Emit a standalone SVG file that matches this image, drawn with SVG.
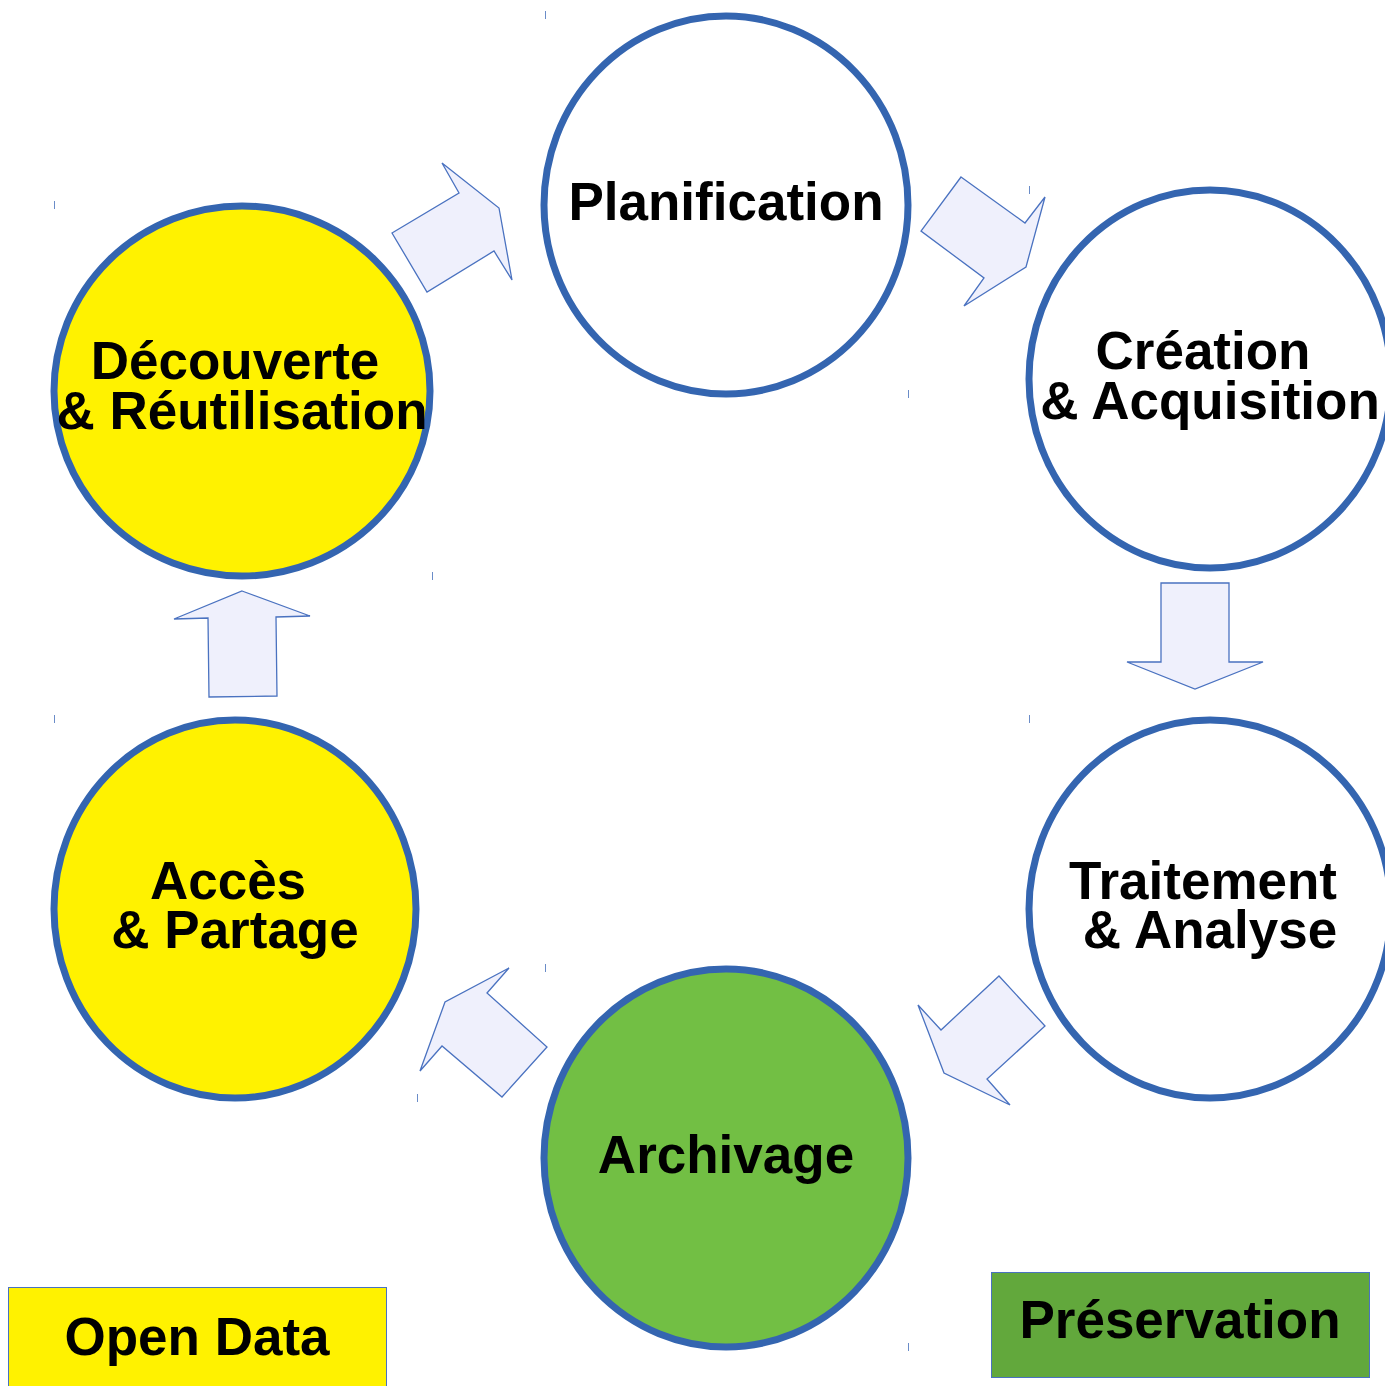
<svg xmlns="http://www.w3.org/2000/svg" width="1385" height="1386" viewBox="0 0 1385 1386">
<style>
.c{stroke:#3465b0;stroke-width:7}
.a{fill:#eff0fc;stroke:#4a72c0;stroke-width:1.3;stroke-linejoin:miter}
.t{font-family:"Liberation Sans",Arial,sans-serif;font-weight:bold;font-size:53px;fill:#000;text-anchor:middle}
.k{stroke:#6a8cc8;stroke-width:1}
</style>
<rect width="1385" height="1386" fill="#fff"/>
<g id="connectors">
<polygon class="a" points="392,233 459,193 442,163 499,208 512,280 494,251 427,292"/>
<polygon class="a" points="961,177 1025,223 1045,197 1026,267 964,306 984,278 921,231"/>
<polygon class="a" points="1161,583 1229,583 1229,662 1263,662 1195,689 1127,662 1161,662"/>
<polygon class="a" points="999,976 1045,1026 987,1079 1010,1105 944,1073 918,1005 941,1030"/>
<polygon class="a" points="509,968 487,993 547,1047 502,1097 442,1046 420,1071 445,1002"/>
<polygon class="a" points="242,591 310,616 276,617 277,696 209,697 208,618 174,619"/>
</g>
<g id="ticks">
<line class="k" x1="545.5" y1="11" x2="545.5" y2="19"/>
<line class="k" x1="54.5" y1="201" x2="54.5" y2="209"/>
<line class="k" x1="432.5" y1="572" x2="432.5" y2="580"/>
<line class="k" x1="908.5" y1="390" x2="908.5" y2="398"/>
<line class="k" x1="1029.5" y1="186" x2="1029.5" y2="194"/>
<line class="k" x1="1029.5" y1="715" x2="1029.5" y2="723"/>
<line class="k" x1="54.5" y1="715" x2="54.5" y2="723"/>
<line class="k" x1="545.5" y1="964" x2="545.5" y2="972"/>
<line class="k" x1="417.5" y1="1094" x2="417.5" y2="1102"/>
<line class="k" x1="908.5" y1="1343" x2="908.5" y2="1351"/>
</g>
<g id="planification">
<ellipse class="c" cx="726" cy="205" rx="182" ry="189" fill="#fff"/>
<text class="t" x="726" y="220">Planification</text>
</g>
<g id="creation">
<ellipse class="c" cx="1210" cy="379" rx="181" ry="189" fill="#fff"/>
<text class="t" x="1203" y="369">Création</text>
<text class="t" x="1210" y="419">&amp; Acquisition</text>
</g>
<g id="traitement">
<ellipse class="c" cx="1210" cy="909" rx="181" ry="189" fill="#fff"/>
<text class="t" x="1203" y="899">Traitement</text>
<text class="t" x="1210" y="948">&amp; Analyse</text>
</g>
<g id="archivage">
<ellipse class="c" cx="726" cy="1158" rx="182" ry="189" fill="#72bf44"/>
<text class="t" x="726" y="1173">Archivage</text>
</g>
<g id="acces">
<ellipse class="c" cx="235" cy="909" rx="181" ry="189" fill="#fff200"/>
<text class="t" x="228" y="899">Accès</text>
<text class="t" x="235" y="948">&amp; Partage</text>
</g>
<g id="decouverte">
<ellipse class="c" cx="242" cy="391" rx="188" ry="185" fill="#fff200"/>
<text class="t" x="235" y="379">Découverte</text>
<text class="t" x="242" y="429">&amp; Réutilisation</text>
</g>
<g id="opendata">
<rect x="8.5" y="1287.5" width="378" height="110" fill="#fff200" stroke="#4a72c0" stroke-width="1"/>
<text class="t" x="197" y="1355">Open Data</text>
</g>
<g id="preservation">
<rect x="991.5" y="1272.5" width="378" height="105" fill="#62a83c" stroke="#4a72c0" stroke-width="1"/>
<text class="t" x="1180" y="1338">Préservation</text>
</g>
</svg>
